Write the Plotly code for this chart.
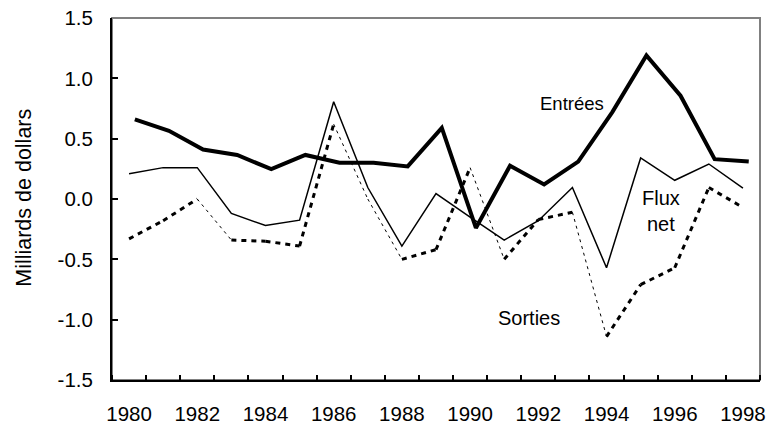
import plotly.graph_objects as go

years = list(range(1980, 1999))
entrees = [0.66, 0.565, 0.41, 0.365, 0.247, 0.365, 0.30, 0.30, 0.27, 0.59,
           -0.24, 0.275, 0.12, 0.31, 0.72, 1.19, 0.856, 0.33, 0.31]
flux_net = [0.21, 0.26, 0.26, -0.12, -0.22, -0.175, 0.806, 0.095, -0.39, 0.045,
            -0.15, -0.34, -0.18, 0.095, -0.57, 0.34, 0.155, 0.29, 0.09]
sorties = [-0.33, -0.18, 0.0, -0.34, -0.35, -0.39, 0.62, 0.0, -0.5, -0.42,
           0.26, -0.5, -0.17, -0.11, -1.14, -0.71, -0.57, 0.095, -0.07]

x_tick_vals = [1980, 1982, 1984, 1986, 1988, 1990, 1992, 1994, 1996, 1998]
y_tick_vals = [-1.5, -1.0, -0.5, 0.0, 0.5, 1.0, 1.5]
y_tick_text = ["-1.5", "-1.0", "-0.5", "0.0", "0.5", "1.0", "1.5"]

FONT = "Arial, 'Liberation Sans', sans-serif"

fig = go.Figure()

# Sorties: drawn segment by segment (falling parts thin dashed, others heavy dotted)
for i in range(len(years) - 1):
    falling = sorties[i + 1] < sorties[i] - 0.2
    fig.add_trace(go.Scatter(
        x=years[i:i + 2], y=sorties[i:i + 2], mode="lines",
        line=dict(color="black", width=1 if falling else 3,
                  dash="3px,4px" if falling else "5px,5px"),
        showlegend=False, hoverinfo="skip"))

fig.add_trace(go.Scatter(x=years, y=flux_net, mode="lines", name="Flux net",
                         line=dict(color="black", width=1.5), showlegend=False))

fig.add_trace(go.Scatter(x=years, y=entrees, mode="lines", name="Entrées",
                         line=dict(color="black", width=4), showlegend=False,
                         xaxis="x2"))

fig.add_shape(type="rect", xref="paper", yref="paper", x0=0, y0=0, x1=1, y1=1,
              line=dict(color="#808080", width=2), layer="below")

fig.update_layout(
    width=769, height=425,
    margin=dict(l=112, r=9, t=18, b=45),
    paper_bgcolor="white", plot_bgcolor="white",
    font=dict(family=FONT, size=20, color="black"),
    xaxis=dict(range=[1979.5, 1998.5], tickmode="array", tickvals=x_tick_vals,
               ticks="", showgrid=False, zeroline=False, automargin=False,
               showline=True, linecolor="black", linewidth=2,
               ticklabelstandoff=14, tickfont=dict(size=20.5),
               ticklabeloverflow="allow",
               minor=dict(tick0=1979.5, dtick=1, ticks="inside", ticklen=5,
                          tickcolor="black", tickwidth=1.5, showgrid=False)),
    xaxis2=dict(range=[1979.5 - 0.17, 1998.5 - 0.17], overlaying="x",
                visible=False, automargin=False),
    yaxis=dict(range=[-1.5, 1.5], tickmode="array", tickvals=y_tick_vals,
               ticktext=y_tick_text, ticks="inside", ticklen=6, automargin=False,
               tickcolor="black", tickwidth=1.5, showgrid=False, zeroline=False,
               showline=True, linecolor="black", linewidth=2,
               ticklabelstandoff=13, tickfont=dict(size=20.5),
               ticklabeloverflow="allow"),
    annotations=[
        dict(text="Entrées", x=1992.98, y=0.79, xref="x", yref="y",
             showarrow=False, xanchor="center", yanchor="middle",
             font=dict(size=18.5)),
        dict(text="Flux<br>net", x=1995.6, y=-0.10, xref="x", yref="y",
             showarrow=False, xanchor="center", yanchor="middle"),
        dict(text="Sorties", x=1991.74, y=-0.99, xref="x", yref="y",
             showarrow=False, xanchor="center", yanchor="middle"),
        dict(text="Milliards de dollars", x=-0.137, y=0.504, xref="paper",
             yref="paper", textangle=-90, showarrow=False,
             xanchor="center", yanchor="middle", font=dict(size=21.5)),
    ],
)

fig.write_html(
    "out.html",
    config={"displayModeBar": False},
    post_script="document.body.style.margin='0';document.body.style.overflow='hidden';",
)
